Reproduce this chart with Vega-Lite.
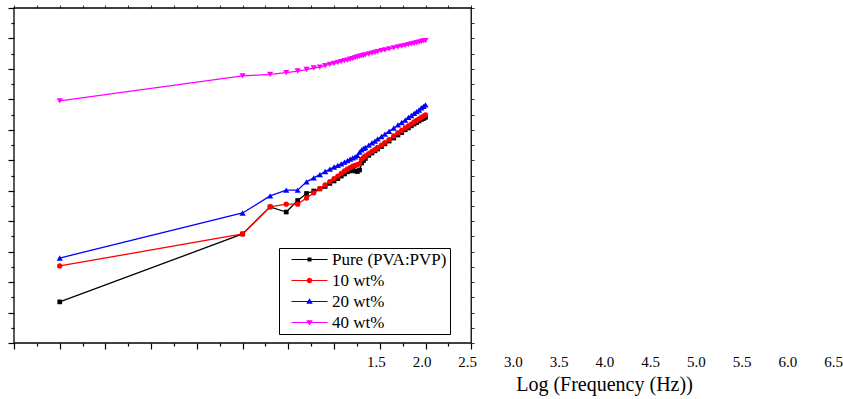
{
  "$schema": "https://vega.github.io/schema/vega-lite/v6.json",
  "width": 823,
  "height": 335,
  "autosize": {"type": "none"},
  "padding": {"left": 14, "top": 8, "right": 6, "bottom": 56},
  "background": "white",
  "config": {"view": {"stroke": null}},
  "resolve": {"axis": {"x": "independent", "y": "independent"}},
  "layer": [
    {
      "data": {"values": [{}]},
      "mark": {"type": "rect", "filled": false, "stroke": "black", "strokeWidth": 1.3},
      "encoding": {
        "x": {"datum": -2.5, "type": "quantitative",
          "scale": {"domain": [-2.5, 6.5], "nice": false, "zero": false},
          "axis": {"orient": "top", "values": [-2.5,-2.25,-2,-1.75,-1.5,-1.25,-1,-0.75,-0.5,-0.25,0,0.25,0.5,0.75,1,1.25,1.5,1.75,2,2.25,2.5],
            "domain": false, "labels": false, "grid": false, "title": null, "tickSize": 3, "tickColor": "#333333", "tickWidth": 1}},
        "x2": {"datum": 2.5},
        "y": {"datum": 0, "type": "quantitative",
          "scale": {"domain": [0, 11], "nice": false, "zero": false},
          "axis": {"orient": "right", "offset": -366, "values": [0,0.5,1,1.5,2,2.5,3,3.5,4,4.5,5,5.5,6,6.5,7,7.5,8,8.5,9,9.5,10,10.5,11],
            "domain": false, "labels": false, "grid": false, "title": null, "tickSize": 3, "tickColor": "#333333", "tickWidth": 1}},
        "y2": {"datum": 11}
      }
    },
    {
      "data": {"values": [
        {"logf": -2, "Pure (PVA:PVP)": 1.35, "10 wt%": 2.53, "20 wt%": 2.79, "40 wt%": 7.95},
        {"logf": 0, "Pure (PVA:PVP)": 3.58, "10 wt%": 3.58, "20 wt%": 4.27, "40 wt%": 8.77},
        {"logf": 0.301, "Pure (PVA:PVP)": 4.47, "10 wt%": 4.47, "20 wt%": 4.83, "40 wt%": 8.82},
        {"logf": 0.477, "Pure (PVA:PVP)": 4.30, "10 wt%": 4.56, "20 wt%": 5.02, "40 wt%": 8.88},
        {"logf": 0.602, "Pure (PVA:PVP)": 4.68, "10 wt%": 4.56, "20 wt%": 5.02, "40 wt%": 8.93},
        {"logf": 0.699, "Pure (PVA:PVP)": 4.91, "10 wt%": 4.76, "20 wt%": 5.29, "40 wt%": 8.98},
        {"logf": 0.778, "Pure (PVA:PVP)": 4.99, "10 wt%": 4.93, "20 wt%": 5.42, "40 wt%": 9.03},
        {"logf": 0.845, "Pure (PVA:PVP)": 5.06, "10 wt%": 5.07, "20 wt%": 5.53, "40 wt%": 9.06},
        {"logf": 0.903, "Pure (PVA:PVP)": 5.14, "10 wt%": 5.19, "20 wt%": 5.63, "40 wt%": 9.11},
        {"logf": 0.954, "Pure (PVA:PVP)": 5.24, "10 wt%": 5.30, "20 wt%": 5.71, "40 wt%": 9.15},
        {"logf": 1, "Pure (PVA:PVP)": 5.32, "10 wt%": 5.40, "20 wt%": 5.78, "40 wt%": 9.18},
        {"logf": 1.041, "Pure (PVA:PVP)": 5.40, "10 wt%": 5.48, "20 wt%": 5.83, "40 wt%": 9.21},
        {"logf": 1.079, "Pure (PVA:PVP)": 5.48, "10 wt%": 5.57, "20 wt%": 5.88, "40 wt%": 9.24},
        {"logf": 1.114, "Pure (PVA:PVP)": 5.55, "10 wt%": 5.65, "20 wt%": 5.94, "40 wt%": 9.27},
        {"logf": 1.146, "Pure (PVA:PVP)": 5.62, "10 wt%": 5.71, "20 wt%": 5.99, "40 wt%": 9.29},
        {"logf": 1.176, "Pure (PVA:PVP)": 5.65, "10 wt%": 5.76, "20 wt%": 6.04, "40 wt%": 9.32},
        {"logf": 1.204, "Pure (PVA:PVP)": 5.67, "10 wt%": 5.81, "20 wt%": 6.08, "40 wt%": 9.34},
        {"logf": 1.23, "Pure (PVA:PVP)": 5.65, "10 wt%": 5.83, "20 wt%": 6.11, "40 wt%": 9.37},
        {"logf": 1.255, "Pure (PVA:PVP)": 5.63, "10 wt%": 5.86, "20 wt%": 6.16, "40 wt%": 9.39},
        {"logf": 1.279, "Pure (PVA:PVP)": 5.68, "10 wt%": 5.89, "20 wt%": 6.27, "40 wt%": 9.41},
        {"logf": 1.301, "Pure (PVA:PVP)": 5.91, "10 wt%": 6.03, "20 wt%": 6.34, "40 wt%": 9.43},
        {"logf": 1.322, "Pure (PVA:PVP)": 5.99, "10 wt%": 6.09, "20 wt%": 6.39, "40 wt%": 9.44},
        {"logf": 1.342, "Pure (PVA:PVP)": 6.06, "10 wt%": 6.14, "20 wt%": 6.42, "40 wt%": 9.46},
        {"logf": 1.38, "Pure (PVA:PVP)": 6.16, "10 wt%": 6.22, "20 wt%": 6.50, "40 wt%": 9.49},
        {"logf": 1.415, "Pure (PVA:PVP)": 6.24, "10 wt%": 6.29, "20 wt%": 6.57, "40 wt%": 9.52},
        {"logf": 1.447, "Pure (PVA:PVP)": 6.31, "10 wt%": 6.35, "20 wt%": 6.63, "40 wt%": 9.54},
        {"logf": 1.477, "Pure (PVA:PVP)": 6.37, "10 wt%": 6.42, "20 wt%": 6.70, "40 wt%": 9.57},
        {"logf": 1.519, "Pure (PVA:PVP)": 6.45, "10 wt%": 6.50, "20 wt%": 6.78, "40 wt%": 9.60},
        {"logf": 1.556, "Pure (PVA:PVP)": 6.54, "10 wt%": 6.58, "20 wt%": 6.86, "40 wt%": 9.62},
        {"logf": 1.602, "Pure (PVA:PVP)": 6.63, "10 wt%": 6.68, "20 wt%": 6.95, "40 wt%": 9.66},
        {"logf": 1.653, "Pure (PVA:PVP)": 6.73, "10 wt%": 6.80, "20 wt%": 7.06, "40 wt%": 9.69},
        {"logf": 1.699, "Pure (PVA:PVP)": 6.83, "10 wt%": 6.90, "20 wt%": 7.16, "40 wt%": 9.72},
        {"logf": 1.74, "Pure (PVA:PVP)": 6.91, "10 wt%": 6.98, "20 wt%": 7.24, "40 wt%": 9.75},
        {"logf": 1.778, "Pure (PVA:PVP)": 7.00, "10 wt%": 7.06, "20 wt%": 7.32, "40 wt%": 9.77},
        {"logf": 1.813, "Pure (PVA:PVP)": 7.06, "10 wt%": 7.13, "20 wt%": 7.41, "40 wt%": 9.80},
        {"logf": 1.845, "Pure (PVA:PVP)": 7.13, "10 wt%": 7.19, "20 wt%": 7.47, "40 wt%": 9.82},
        {"logf": 1.875, "Pure (PVA:PVP)": 7.19, "10 wt%": 7.26, "20 wt%": 7.54, "40 wt%": 9.84},
        {"logf": 1.903, "Pure (PVA:PVP)": 7.24, "10 wt%": 7.31, "20 wt%": 7.60, "40 wt%": 9.86},
        {"logf": 1.929, "Pure (PVA:PVP)": 7.29, "10 wt%": 7.36, "20 wt%": 7.65, "40 wt%": 9.88},
        {"logf": 1.954, "Pure (PVA:PVP)": 7.34, "10 wt%": 7.41, "20 wt%": 7.72, "40 wt%": 9.90},
        {"logf": 1.978, "Pure (PVA:PVP)": 7.37, "10 wt%": 7.45, "20 wt%": 7.77, "40 wt%": 9.92},
        {"logf": 2, "Pure (PVA:PVP)": 7.41, "10 wt%": 7.49, "20 wt%": 7.82, "40 wt%": 9.93}
      ]},
      "transform": [{"fold": ["Pure (PVA:PVP)", "10 wt%", "20 wt%", "40 wt%"], "as": ["series", "v"]}],
      "encoding": {
        "x": {"field": "logf", "type": "quantitative",
          "scale": {"domain": [-2.5, 6.5], "nice": false, "zero": false},
          "axis": {
            "orient": "bottom",
            "values": [-2.5,-2.25,-2,-1.75,-1.5,-1.25,-1,-0.75,-0.5,-0.25,0,0.25,0.5,0.75,1,1.25,1.5,1.75,2,2.25,2.5,3,3.5,4,4.5,5,5.5,6,6.5],
            "domain": false, "grid": false,
            "labelExpr": "datum.value >= 1.49 && abs(datum.value*2 - round(datum.value*2)) < 0.01 ? format(datum.value, '.1f') : ''",
            "labelOverlap": false, "labelFlush": false, "labelBound": false,
            "labelFont": "Liberation Serif", "labelFontSize": 15, "labelColor": "black",
            "labelOffset": -4, "labelPadding": 5,
            "tickColor": "black", "tickWidth": 1.2,
            "tickSize": {"condition": {"test": "abs(datum.value*2 - round(datum.value*2)) < 0.01", "value": 6}, "value": 3},
            "tickOpacity": {"condition": {"test": "datum.value > 2.51", "value": 0}, "value": 1},
            "title": "Log (Frequency (Hz))",
            "titleFont": "Liberation Serif", "titleFontSize": 20, "titleFontWeight": "normal", "titleColor": "black",
            "titleX": 590, "titleY": 47, "titleBaseline": "alphabetic", "titleAlign": "center"
          }},
        "y": {"field": "v", "type": "quantitative",
          "scale": {"domain": [0, 11], "nice": false, "zero": false},
          "axis": {
            "orient": "left",
            "values": [0,0.5,1,1.5,2,2.5,3,3.5,4,4.5,5,5.5,6,6.5,7,7.5,8,8.5,9,9.5,10,10.5,11],
            "domain": false, "labels": false, "grid": false, "title": null,
            "tickColor": "black", "tickWidth": 1.2,
            "tickSize": {"condition": {"test": "abs(datum.value - round(datum.value)) < 0.01", "value": 6}, "value": 3}
          }},
        "color": {"field": "series", "type": "nominal",
          "scale": {"domain": ["Pure (PVA:PVP)", "10 wt%", "20 wt%", "40 wt%"], "range": ["#000000", "#ff0000", "#0000ff", "#ff00ff"]},
          "legend": {
            "orient": "none", "legendX": 265, "legendY": 240,
            "title": null,
            "strokeColor": "black", "fillColor": "white", "padding": 3,
            "labelFont": "Liberation Serif", "labelFontSize": 17, "labelColor": "black",
            "labelOffset": 14, "symbolOffset": 19, "rowPadding": 3,
            "symbolSize": 100, "symbolStrokeWidth": 0, "symbolOpacity": 1,
            "encode": {"symbols": {"update": {
              "shape": {"signal": "datum.value === 'Pure (PVA:PVP)' ? 'M-3.6,-0.12H3.6V0.12H-3.6Z M-0.4,-0.4H0.4V0.4H-0.4Z' : datum.value === '10 wt%' ? 'M-3.6,-0.12H3.6V0.12H-3.6Z M0.55,0A0.55,0.55 0 1,1 -0.55,0A0.55,0.55 0 1,1 0.55,0Z' : datum.value === '20 wt%' ? 'M-3.6,-0.12H3.6V0.12H-3.6Z M0,-0.65L0.65,0.45L-0.65,0.45Z' : 'M-3.6,-0.12H3.6V0.12H-3.6Z M0,0.65L-0.65,-0.45L0.65,-0.45Z'"},
              "fill": {"signal": "scale('color', datum.value)"},
              "stroke": {"value": "transparent"},
              "strokeWidth": {"value": 0},
              "opacity": {"value": 1}
            }}}
          }}
      },
      "layer": [
        {"mark": {"type": "line", "strokeWidth": 1.3}},
        {"transform": [{"filter": "datum.series === 'Pure (PVA:PVP)'"}],
         "mark": {"type": "point", "shape": "square", "filled": true, "opacity": 1, "size": 22}},
        {"transform": [{"filter": "datum.series === '10 wt%'"}],
         "mark": {"type": "point", "shape": "circle", "filled": true, "opacity": 1, "size": 28}},
        {"transform": [{"filter": "datum.series === '20 wt%'"}],
         "mark": {"type": "point", "shape": "triangle-up", "filled": true, "opacity": 1, "size": 38}},
        {"transform": [{"filter": "datum.series === '40 wt%'"}],
         "mark": {"type": "point", "shape": "triangle-down", "filled": true, "opacity": 1, "size": 38}}
      ]
    }
  ]
}
